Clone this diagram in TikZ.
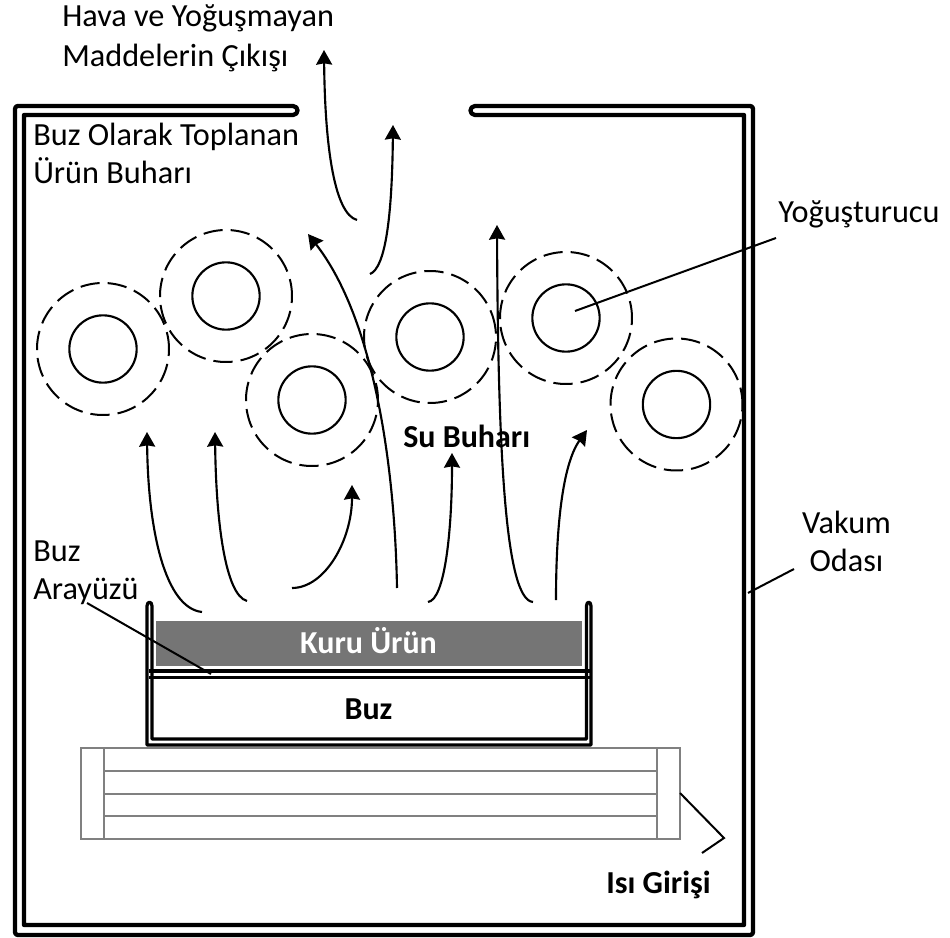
\documentclass[tikz,border=0pt]{standalone}
\usepackage{fontspec}
\setmainfont{Carlito}
\usetikzlibrary{arrows.meta}
\tikzset{
  x=0.75pt,y=-0.75pt,
  frame/.style={line width=3.2pt,line join=round},
  tray/.style={line width=2.4pt,line join=round,line cap=round},
  heater/.style={draw=black!50,line width=0.8pt},
  flow/.style={line width=1.6pt,-{Stealth[length=11pt,width=12pt,inset=1pt]}},
  leader/.style={line width=1.5pt},
  condin/.style={circle,draw,line width=1.6pt,minimum size=50.5pt,inner sep=0pt},
  condout/.style={circle,draw,line width=1.5pt,dash pattern=on 14.5pt off 6pt,minimum size=99pt,inner sep=0pt},
  lab/.style={anchor=base west,inner sep=0pt,font=\fontsize{24.2}{24.2}\selectfont},
  blab/.style={lab,font=\fontsize{24}{24}\selectfont\bfseries},
}
\begin{document}
\begin{tikzpicture}
\useasboundingbox (0,0) rectangle (950,938);
\fill[white] (0,0) rectangle (950,938);
% chamber
\draw[frame] (293,106) -- (18,106) .. controls (16,106) and (15,107) .. (15,109) -- (15,932)
  .. controls (15,934) and (16,935) .. (18,935) -- (750,935) .. controls (752,935) and (753,934) .. (753,932)
  -- (753,109) .. controls (753,107) and (752,106) .. (750,106) -- (475,106)
  .. controls (469,106) and (469,115) .. (475,115) -- (744,115) -- (744,925) -- (24,925) -- (24,115) -- (293,115)
  .. controls (299,115) and (299,106) .. (293,106) -- cycle;
% product
\node[draw=none,fill=black!54,minimum width=319.5pt,minimum height=33.75pt,inner sep=0pt] (kuru) at (369,643.5) {};
\node[blab,anchor=base,text=white] (kurutext) at (368.5,653) {Kuru Ürün};
\node[blab,anchor=base] (buztext) at (368.5,719) {Buz};
\draw[tray] (147,606) -- (147,745) -- (591,745) -- (591,606)
  .. controls (591,601) and (586.5,601) .. (586.5,606) -- (586.5,739) -- (152,739) -- (152,606)
  .. controls (152,601) and (147,601) .. (147,606) -- cycle;
\draw[line width=2.5pt] (149,671) -- (590,671) (149,677.5) -- (590,677.5);
% heater
\draw[heater] (81,748) rectangle (680,839);
\draw[heater] (104,748) -- (104,839) (657,748) -- (657,839);
\draw[heater] (104,771) -- (657,771) (104,794) -- (657,794) (104,816) -- (657,816);
\coordinate (hs) at (680,793);
\coordinate (hm) at (724,838);
\coordinate (he) at (702,853);
\draw[leader] (hs) -- (hm) -- (he);
% condensers
\foreach \n/\x/\y/\r in {a/103/349/-2,b/226/296/-2,c/312/400/-2,d/430/337/7,e/566/318/-2,f/676.5/404.5/-2}{
  \node[condout,rotate=\r] (o\n) at (\x,\y) {};
  \node[condin] (i\n) at (\x,\y) {};
}
% flows
\draw[flow] (357,220) .. controls (335,214) and (325,150) .. (324,50);
\draw[flow] (370,274) .. controls (385,268) and (392,220) .. (393,125);
\draw[flow] (397,588) .. controls (395,470) and (375,320) .. (308,234);
\draw[flow] (533,602) .. controls (505,600) and (498,450) .. (497,225);
\draw[flow] (428,602) .. controls (445,600) and (452,530) .. (452,453);
\draw[flow] (556,600) .. controls (556,530) and (562,465) .. (587,430);
\draw[flow] (292,588) .. controls (325,588) and (352,540) .. (352,485);
\draw[flow] (202,612) .. controls (165,608) and (148,530) .. (147,432);
\draw[flow] (247,601) .. controls (225,595) and (216,520) .. (215,432);
% leaders
\coordinate (ia) at (87,603);
\coordinate (ib) at (211,674);
\draw[leader] (ia) -- (ib);
\coordinate (ya) at (575,311);
\coordinate (yb) at (776,238);
\draw[leader] (ya) -- (yb);
\coordinate (va) at (748,593);
\coordinate (vb) at (794,569);
\draw[leader] (va) -- (vb);
% labels
\node[lab] (t1) at (62,27) {Hava ve Yoğuşmayan};
\node[lab] (t2) at (62,67) {Maddelerin Çıkışı};
\node[lab] (t3) at (33,146) {Buz Olarak Toplanan};
\node[lab] (t4) at (33,184) {Ürün Buharı};
\node[lab] (t5) at (33,561) {Buz};
\node[lab] (t6) at (33,599) {Arayüzü};
\node[lab] (t7) at (778,223) {Yoğuşturucu};
\node[lab,anchor=base] (t8) at (846.5,533) {Vakum};
\node[lab,anchor=base] (t9) at (846.5,571) {Odası};
\node[blab] (t10) at (403,447) {Su Buharı};
\node[blab] (t11) at (606,893) {Isı Girişi};
\end{tikzpicture}
\end{document}
